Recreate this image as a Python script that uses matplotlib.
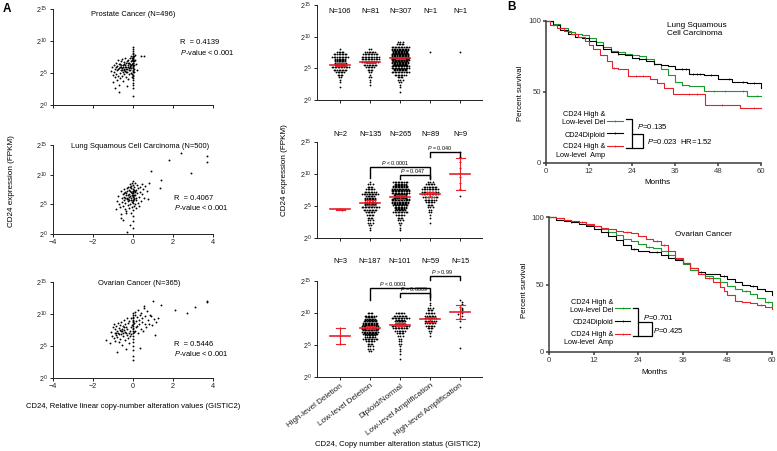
import matplotlib
matplotlib.use("Agg")
import matplotlib.pyplot as plt
import numpy as np

plt.rcParams["font.family"] = ["Liberation Sans", "DejaVu Sans"]
plt.rcParams["mathtext.fontset"] = "custom"
plt.rcParams["mathtext.rm"] = "Liberation Sans"
plt.rcParams["mathtext.it"] = "Liberation Sans:italic"
plt.rcParams["axes.linewidth"] = 0.7

W, H = 777, 451
RED = "#e8202a"
GREEN = "#1a9a2a"
AXC = "#222222"

# ---------------- data: panel A, scatter (GISTIC2 value, log2 FPKM) ----------------
prad_pts = [
    (-1.08, 5.3), (-1.05, 5.9), (-1.02, 4.7), (-0.98, 3.6), (-0.96, 6.2), (-0.94, 5.1), (-0.91, 2.6),
    (-0.90, 4.3), (-0.88, 5.7), (-0.86, 6.6), (-0.84, 4.9), (-0.82, 3.9), (-0.80, 5.4), (-0.78, 6.1),
    (-0.76, 4.6), (-0.74, 7.0), (-0.72, 3.2), (-0.70, 5.8), (-0.69, 2.1), (-0.67, 6.4), (-0.65, 5.0),
    (-0.63, 4.2), (-0.61, 6.8), (-0.60, 5.5), (-0.58, 6.0), (-0.56, 4.6), (-0.54, 7.2), (-0.52, 5.2),
    (-0.50, 6.3), (-0.48, 3.7), (-0.47, 5.7), (-0.45, 6.7), (-0.43, 4.9), (-0.41, 6.0), (-0.40, 5.3),
    (-0.38, 7.4), (-0.36, 4.4), (-0.34, 6.5), (-0.33, 5.6), (-0.31, 2.9), (-0.30, 6.9), (-0.28, 5.1),
    (-0.26, 6.2), (-0.25, 4.0), (-0.23, 7.1), (-0.21, 5.8), (-0.20, 6.6), (-0.18, 4.8), (-0.16, 7.3),
    (-0.15, 5.4), (-0.13, 6.1), (-0.11, 7.6), (-0.10, 5.0), (-0.08, 6.8), (-0.07, 4.3), (-0.06, 7.0),
    (-0.75, 5.6), (-0.66, 5.9), (-0.57, 5.4), (-0.49, 6.0), (-0.44, 5.5), (-0.39, 6.3), (-0.35, 5.9),
    (-0.29, 5.6), (-0.24, 6.0), (-0.19, 5.5), (-0.14, 6.4), (-0.12, 5.8), (-0.62, 6.2), (-0.53, 5.8),
    (-0.46, 6.4), (-0.37, 5.2), (-0.27, 6.5), (-0.17, 6.0), (-0.09, 6.2), (-0.71, 6.4), (-0.83, 5.9),
    (0.00, 1.4), (0.00, 2.6), (-0.02, 3.1), (0.02, 3.5), (0.00, 3.9), (-0.02, 4.2), (0.02, 4.5),
    (0.00, 4.7), (-0.03, 4.9), (0.02, 5.1), (0.00, 5.3), (-0.02, 5.5), (0.03, 5.6), (0.00, 5.8),
    (-0.02, 6.0), (0.02, 6.1), (0.00, 6.3), (-0.03, 6.4), (0.02, 6.5), (0.00, 6.6), (-0.02, 6.8),
    (0.03, 6.9), (0.00, 7.0), (-0.02, 7.1), (0.02, 7.2), (0.00, 7.3), (-0.03, 7.4), (0.02, 7.5),
    (0.00, 7.7), (-0.02, 7.9), (0.02, 8.1), (0.00, 8.4), (0.00, 8.7), (0.00, 9.1), (0.05, 6.2),
    (0.04, 7.6), (0.06, 5.2), (0.10, 7.0), (0.14, 6.4), (0.12, 7.8), (0.42, 7.6), (0.56, 7.6), (0.20, 5.5),
]

lusc_pts = [
    (-0.83, 4.2), (-0.78, 5.6), (-0.74, 6.4), (-0.70, 5.1), (-0.66, 4.6), (-0.62, 7.2), (-0.60, 3.3),
    (-0.58, 2.7), (-0.56, 6.0), (-0.54, 5.4), (-0.52, 6.8), (-0.50, 2.4), (-0.49, 4.8), (-0.47, 7.6),
    (-0.45, 5.8), (-0.43, 6.3), (-0.42, 4.2), (-0.40, 7.0), (-0.38, 5.2), (-0.36, 6.6), (-0.35, 3.9),
    (-0.33, 3.5), (-0.32, 0.4), (-0.31, 5.9), (-0.30, 7.3), (-0.28, 6.1), (-0.27, 4.9), (-0.25, 8.0),
    (-0.24, 5.5), (-0.22, 6.8), (-0.21, 4.4), (-0.20, 7.5), (-0.18, 5.7), (-0.17, 1.5), (-0.16, 6.4),
    (-0.15, 8.4), (-0.13, 5.0), (-0.12, 7.0), (-0.10, 6.0), (-0.09, 3.6), (-0.08, 7.8), (-0.07, 5.4),
    (-0.05, 6.6), (-0.04, 4.6), (-0.03, 8.6), (-0.02, 7.2), (-0.01, 5.8), (0.00, 6.9), (0.00, 6.2),
    (0.00, 5.2), (0.00, 7.6), (0.00, 8.2), (0.00, 4.0), (0.00, 3.0), (0.00, 2.2), (0.00, 1.0),
    (0.00, 8.9), (0.01, 6.5), (0.02, 5.5), (0.03, 7.4), (0.04, 4.8), (0.05, 8.0), (0.06, 6.1),
    (0.08, 7.0), (0.09, 5.1), (0.10, 8.6), (0.12, 6.6), (0.13, 4.3), (0.15, 7.5), (0.17, 5.8),
    (0.19, 8.2), (0.21, 6.9), (0.23, 5.2), (0.25, 7.7), (0.28, 6.3), (0.30, 4.7), (0.33, 8.0),
    (0.36, 7.1), (0.40, 5.6), (0.43, 8.4), (0.47, 6.7), (0.52, 7.6), (0.57, 6.0), (0.62, 8.1),
    (0.68, 7.2), (0.75, 5.9), (0.80, 8.6), (-0.35, 6.9), (-0.26, 6.6), (-0.19, 6.2), (-0.14, 7.2),
    (-0.06, 6.9), (-0.02, 6.4), (0.02, 7.0), (0.07, 6.6), (-0.29, 7.8), (-0.11, 8.1), (0.11, 7.3),
    (-0.23, 5.9), (-0.40, 6.1), (-0.46, 6.9), (0.16, 6.0), (0.00, 5.8), (0.00, 7.2), (-0.08, 5.8),
    (0.05, 5.9), (-0.16, 7.9),
    (0.92, 10.7), (1.33, 7.7), (1.42, 9.1), (1.78, 12.4), (2.38, 13.6), (2.92, 10.3), (3.68, 13.2), (3.68, 12.2),
]

ov_pts = [
    (-1.34, 6.0), (-1.13, 5.4), (-1.10, 7.2), (-1.05, 6.6), (-1.00, 7.9), (-0.97, 6.2), (-0.94, 8.4),
    (-0.92, 7.0), (-0.90, 5.8), (-0.88, 7.6), (-0.86, 6.7), (-0.84, 8.2), (-0.82, 4.1), (-0.80, 7.3),
    (-0.78, 6.4), (-0.76, 8.6), (-0.74, 7.0), (-0.72, 5.6), (-0.70, 7.8), (-0.68, 6.8), (-0.66, 8.3),
    (-0.64, 6.1), (-0.62, 7.4), (-0.60, 8.8), (-0.58, 6.9), (-0.56, 7.7), (-0.54, 5.1), (-0.52, 8.1),
    (-0.50, 7.1), (-0.48, 6.5), (-0.46, 9.0), (-0.44, 7.5), (-0.42, 6.0), (-0.40, 8.4), (-0.38, 7.2),
    (-0.36, 4.6), (-0.34, 8.0), (-0.32, 6.7), (-0.30, 9.3), (-0.28, 7.6), (-0.26, 6.3), (-0.24, 8.6),
    (-0.22, 7.0), (-0.20, 5.5), (-0.18, 8.9), (-0.16, 7.4), (-0.14, 6.6), (-0.12, 9.4), (-0.10, 7.9),
    (-0.08, 6.9), (-0.06, 8.3), (-0.85, 7.1), (-0.65, 7.5), (-0.55, 7.3), (-0.45, 7.9), (-0.35, 7.0),
    (0.00, 2.8), (0.00, 3.5), (0.00, 4.3), (-0.02, 5.0), (0.02, 5.6), (0.00, 6.1), (-0.02, 6.6),
    (0.02, 7.0), (0.00, 7.4), (-0.02, 7.8), (0.02, 8.1), (0.00, 8.4), (-0.02, 8.7), (0.02, 9.0),
    (0.00, 9.3), (-0.02, 9.6), (0.02, 9.9), (0.00, 10.2), (0.00, 7.6), (0.00, 8.9), (0.03, 7.2),
    (0.06, 8.6), (0.08, 9.8), (0.10, 7.4), (0.12, 10.3), (0.14, 8.9), (0.16, 7.9), (0.18, 9.5),
    (0.20, 8.2), (0.23, 10.6), (0.26, 7.1), (0.29, 9.1), (0.32, 8.5), (0.35, 9.9), (0.36, 4.7),
    (0.38, 7.7), (0.41, 10.2), (0.44, 8.8), (0.47, 9.4), (0.50, 7.3), (0.53, 10.9), (0.56, 11.25),
    (0.58, 8.4), (0.62, 9.7), (0.66, 8.0), (0.70, 10.4), (0.75, 9.0), (0.80, 8.5), (0.85, 9.8),
    (0.90, 9.7), (0.95, 8.3), (1.05, 9.2), (1.10, 6.7), (1.15, 8.8), (1.24, 9.4),
    (0.98, 12.1), (1.40, 11.4), (2.10, 10.6), (2.70, 10.2), (3.10, 11.1), (3.69, 12.1), (3.69, 11.8),
]

scatter_titles = ["Prostate Cancer (N=496)", "Lung Squamous Cell Carcinoma (N=500)", "Ovarian Cancer (N=365)"]
scatter_r = ["0.4139", "0.4067", "0.5446"]

# ---------------- data: panel A, CNA status groups (log2 FPKM) ----------------
cna_labels = ["High-level Deletion", "Low-level Deletion", "Diploid/Normal",
              "Low-level Amplification", "High-level Amplification"]
BIN = 0.4
# binned groups: category -> (first bin value, counts per bin)
prad_bins = {
    0: (2.0, [1, 0, 1, 1, 2, 4, 6, 9, 12, 15, 15, 14, 11, 9, 5, 1]),
    1: (2.4, [1, 1, 1, 2, 1, 2, 4, 6, 9, 11, 12, 12, 10, 7, 2]),
    2: (1.2, [1, 0, 1, 1, 2, 3, 4, 8, 12, 18, 24, 28, 32, 34, 34, 33, 30, 22, 12, 5, 3]),
}
prad_vals = {3: [7.5], 4: [7.5]}
prad_n = [106, 81, 307, 1, 1]
prad_mean = [5.6, 6.0, 6.6, None, None]
prad_err = [0.2, 0.2, 0.15, None, None]

lusc_bins = {
    1: (1.2, [1, 1, 2, 3, 3, 4, 5, 6, 9, 12, 14, 15, 14, 13, 11, 8, 6, 4, 3, 1]),
    2: (1.2, [1, 1, 1, 2, 3, 4, 6, 10, 13, 16, 19, 22, 24, 25, 25, 24, 23, 20, 16, 10]),
    3: (2.4, [1, 0, 1, 1, 2, 2, 3, 4, 6, 8, 10, 11, 11, 11, 9, 6, 3]),
}
lusc_vals = {0: [4.5, 4.45], 4: [13.4, 12.6, 11.8, 11.0, 10.2, 9.6, 8.6, 7.6, 6.5]}
lusc_n = [2, 135, 265, 89, 9]
lusc_mean = [4.5, 5.5, 6.4, 6.85, 10.0]
lusc_err = [0.05, 0.4, 0.3, 0.4, 2.45]

ov_bins = {
    1: (4.0, [2, 3, 3, 4, 6, 10, 14, 19, 21, 22, 21, 20, 17, 13, 8, 4]),
    2: (2.8, [1, 0, 1, 1, 1, 1, 2, 2, 2, 3, 5, 7, 10, 12, 13, 13, 12, 9, 6]),
    3: (6.4, [1, 1, 2, 4, 6, 7, 8, 8, 7, 6, 4, 3, 1, 1]),
}
ov_vals = {0: [5.2, 6.4, 7.6],
           4: [12.0, 11.7, 11.4, 11.0, 10.8, 10.6, 10.4, 10.2, 10.0, 9.9, 9.6, 9.2, 8.7, 7.8, 4.6]}
ov_n = [3, 187, 101, 59, 15]
ov_mean = [6.4, 7.7, 8.2, 9.0, 10.1]
ov_err = [1.2, 0.25, 0.25, 0.35, 1.1]

# comparisons: (cat a, cat b, bracket top, left leg end, right leg end, p text, text x)
lusc_cmp = [(1, 3, 11.1, 9.4, 9.4, "< 0.0001", 1.83), (2, 3, 9.8, 9.2, 9.2, "= 0.047", 2.4),
            (3, 4, 13.4, 12.6, 12.5, "= 0.040", 3.3)]
ov_cmp = [(3, 4, 15.8, 15.2, 15.2, "> 0.99", 3.4), (1, 3, 13.9, 12.0, 12.0, "< 0.0001", 1.77),
          (2, 3, 13.1, 12.5, 12.5, "= 0.0009", 2.45)]

# ---------------- data: panel B, Kaplan-Meier (months, percent survival) ----------------
lusc_del_t = [0, 2, 4, 6, 8, 10, 12, 14, 16, 18, 20, 22, 24, 26, 28, 30, 32, 34, 36, 38, 40, 44, 50, 56, 60]
lusc_del_s = [100, 98, 95, 92, 91, 90, 88, 85, 82, 79, 78, 77, 76, 75, 73, 70, 66, 62, 57, 55, 54, 51, 51, 47, 47]
lusc_del_c = [12, 26, 38, 47, 50, 55, 59]
lusc_dip_t = [0, 2, 4, 6, 8, 10, 12, 14, 16, 18, 20, 22, 24, 26, 28, 30, 32, 34, 36, 40, 44, 48, 52, 56, 60]
lusc_dip_s = [100, 97, 94, 91, 89, 88, 86, 83, 80, 78, 77, 76, 74, 73, 72, 70, 69, 68, 66, 63, 62, 59, 57, 56, 53]
lusc_dip_c = [20, 26, 30, 38, 39, 41, 42, 43, 46, 51, 55, 58]
lusc_amp_t = [0, 1, 3, 5, 7, 9, 11, 12, 13, 15, 17, 18.5, 20, 23, 26, 29, 31, 33, 35.5, 44.5, 54, 60]
lusc_amp_s = [100, 97, 95, 93, 91, 89, 86, 83, 80, 76, 72, 67, 66, 61, 61, 59, 56, 53, 48.6, 41, 38.5, 38.5]
lusc_amp_c = [8, 19, 25, 27, 40, 42, 49, 58]

ov_del_t = [0, 2, 4, 6, 8, 10, 12, 14, 16, 18, 20, 22, 24, 26, 28, 30, 32, 34, 36, 38, 40, 42, 44,
            46, 48, 50, 52, 54, 56, 58, 60]
ov_del_s = [100, 99, 98, 97, 96, 94, 93, 91, 89, 87, 84, 82, 80, 78, 77, 75, 72, 69, 65, 61, 58, 56, 55,
            52, 49, 47, 45, 43, 40, 37, 34]
ov_del_c = [9, 18, 27, 44, 53, 59]
ov_dip_t = [0, 2, 4, 6, 8, 10, 12, 14, 16, 18, 20, 22, 24, 27, 30, 32, 34, 36, 38, 40, 42, 44, 46,
            48, 50, 52, 54, 56, 58, 60]
ov_dip_s = [100, 98, 97, 96, 95, 93, 91, 89, 86, 83, 79, 76, 75, 74, 72, 70, 68, 66, 62, 59, 58, 58, 56,
            54, 52, 50, 49, 47, 45, 42]
ov_dip_c = [6, 23, 29, 41, 47, 55]
ov_amp_t = [0, 2, 4, 6, 8, 10, 12, 14, 16, 18, 20, 22, 24, 26, 28, 30, 32, 34, 36, 38, 40, 42, 44,
            46, 47, 48, 50, 52, 54, 56, 58, 60]
ov_amp_s = [100, 99, 98, 97, 96, 95, 93, 92, 91, 90, 89, 88, 86, 84, 82, 79, 75, 70, 66, 62, 58, 55, 52,
            48, 45, 42, 38, 37, 36, 35, 33, 32]
ov_amp_c = [8, 21, 29, 31, 43, 57]

fig = plt.figure(figsize=(W / 100, H / 100), dpi=100)


def rect(left, top, right, bottom):
    return [left / W, 1 - bottom / H, (right - left) / W, (bottom - top) / H]


def ftext(px, py, s, **kw):
    fig.text(px / W, 1 - py / H, s, **kw)


def style_axes(ax, lw=0.7, color=AXC, size=5.2, length=2.2):
    for side in ("top", "right"):
        ax.spines[side].set_visible(False)
    for side in ("left", "bottom"):
        ax.spines[side].set_linewidth(lw)
        ax.spines[side].set_color(color)
    ax.tick_params(direction="out", length=length, width=lw, colors=color, labelsize=size, pad=1.5)


pow_labels = [r"$\mathregular{2^{%d}}$" % v for v in (0, 5, 10, 15)]

# ---------------- left column: scatter ----------------
scatter_rects = [(53, 9, 213, 105), (53, 145, 213, 234), (53, 282, 213, 378)]
scatter_title_pos = [(0.0, 14.1), (0.35, 14.8), (0.3, 14.7)]
scatter_r_pos = [(2.35, 9.7), (2.05, 5.9), (2.05, 5.3)]
for i, pts in enumerate([prad_pts, lusc_pts, ov_pts]):
    ax = fig.add_axes(rect(*scatter_rects[i]))
    arr = np.array(pts)
    ax.plot(arr[:, 0], arr[:, 1], "o", ms=1.35, mew=0, color="black", clip_on=False)
    ax.set_xlim(-4, 4)
    ax.set_ylim(0, 15)
    ax.set_xticks([-4, -2, 0, 2, 4])
    ax.set_yticks([0, 5, 10, 15])
    ax.set_yticklabels(pow_labels)
    style_axes(ax)
    if i == 0:
        ax.set_xticklabels([])
    tx, ty = scatter_title_pos[i]
    ax.text(tx, ty, scatter_titles[i], ha="center", va="center", fontsize=5.4)
    rx, ry = scatter_r_pos[i]
    ax.text(rx, ry, "R  = " + scatter_r[i], ha="left", va="center", fontsize=5.4)
    ax.text(rx, ry - 1.45, r"$\mathit{P}$-value < 0.001", ha="left", va="center", fontsize=5.4)

ftext(12, 181, "CD24 expression (FPKM)", rotation=90, ha="center", va="center", fontsize=5.9)
ftext(133, 407, "CD24, Relative linear copy-number alteration values (GISTIC2)",
      ha="center", va="center", fontsize=5.5)


# ---------------- middle column: dot plots ----------------
def swarm_from_bins(cat, start, counts, step=0.052, max_row=12):
    xs, ys = [], []
    for i, c in enumerate(counts):
        if c == 0:
            continue
        y0 = start + i * BIN
        nrows = int(np.ceil(c / max_row))
        for r, idx in enumerate(np.array_split(np.arange(c), nrows)):
            n = len(idx)
            yy = y0 + (r - (nrows - 1) / 2) * BIN / nrows
            s = step if n > 3 else step * 1.6
            xs.extend(cat + (np.arange(n) - (n - 1) / 2) * s)
            ys.extend([yy] * n)
    return xs, ys


def swarm_from_values(cat, vals, step=0.07, tol=0.35):
    xs, placed = [], []
    for v in vals:
        k = sum(1 for p in placed if abs(p - v) < tol)
        off = 0 if k == 0 else ((k + 1) // 2) * step * (1 if k % 2 else -1)
        xs.append(cat + off)
        placed.append(v)
    return xs, list(vals)


def bracket(ax, a, b, top, la, lb, ptxt, tx):
    ax.plot([a, a, b, b], [la, top, top, lb], color="black", lw=1.0, clip_on=False,
            solid_joinstyle="miter")
    ax.text(tx, top + 0.02, r"$\mathit{P}$ " + ptxt, ha="center", va="bottom",
            fontsize=3.9, clip_on=False)


dot_rects = [(317, 5, 482, 100), (317, 142, 482, 238), (317, 281, 482, 377)]
n_label_y = [13.9, 16.1, 18.0]
panels = [(prad_bins, prad_vals, prad_n, prad_mean, prad_err, []),
          (lusc_bins, lusc_vals, lusc_n, lusc_mean, lusc_err, lusc_cmp),
          (ov_bins, ov_vals, ov_n, ov_mean, ov_err, ov_cmp)]
for i, (bins, vals, ns, means, errs, cmps) in enumerate(panels):
    ax = fig.add_axes(rect(*dot_rects[i]))
    for cat, (start, counts) in bins.items():
        xs, ys = swarm_from_bins(cat, start, counts)
        ax.plot(xs, ys, "o", ms=1.3, mew=0, color="black", clip_on=False)
    for cat, v in vals.items():
        xs, ys = swarm_from_values(cat, v)
        ax.plot(xs, ys, "o", ms=1.3, mew=0, color="black", clip_on=False)
    for cat in range(5):
        if means[cat] is None:
            continue
        m, e = means[cat], errs[cat]
        ax.plot([cat - 0.33, cat + 0.33], [m, m], color=RED, lw=1.2, zorder=5)
        ax.plot([cat, cat], [m - e, m + e], color=RED, lw=0.8, zorder=5)
        for yy in (m - e, m + e):
            ax.plot([cat - 0.15, cat + 0.15], [yy, yy], color=RED, lw=0.8, zorder=5)
    for cat in range(5):
        ax.text(cat, n_label_y[i], "N=%d" % ns[cat], ha="center", va="center", fontsize=5.4)
    for c in cmps:
        bracket(ax, *c)
    ax.set_xlim(-0.77, 4.73)
    ax.set_ylim(0, 15)
    ax.set_xticks(range(5))
    ax.set_yticks([0, 5, 10, 15])
    ax.set_yticklabels(pow_labels)
    style_axes(ax)
    if i < 2:
        ax.set_xticklabels([])
    else:
        ax.set_xticklabels(cna_labels, rotation=37, ha="right", rotation_mode="anchor", fontsize=5.9)
        ax.tick_params(axis="x", pad=1.5)

ftext(284, 170, "CD24 expression (FPKM)", rotation=90, ha="center", va="center", fontsize=5.9)
ftext(398, 445, "CD24, Copy number alteration status (GISTIC2)", ha="center", va="center", fontsize=5.6)


# ---------------- right column: Kaplan-Meier ----------------
def draw_km(ax, times, surv, censor, color):
    t = np.asarray(times, float)
    s = np.asarray(surv, float)
    ax.step(t, s, where="post", color=color, lw=0.8, clip_on=False)
    c = np.asarray(censor, float)
    idx = np.searchsorted(t, c, side="right") - 1
    ax.plot(c, s[idx], ls="none", marker="|", ms=2.0, mew=0.5, color=color, clip_on=False)


def km_legend(ax, xr, lx, ly, rows, br1, br2, ptexts):
    for (y, txt) in rows:
        ax.text(xr, y, txt, ha="right", va="center", fontsize=5.2)
    for y, color in zip(ly, (GREEN, "black", RED)):
        ax.plot(lx, [y, y], color=color, lw=0.8, clip_on=False)
        ax.plot([(lx[0] + lx[1]) / 2], [y], marker="|", ms=2.0, mew=0.5, color=color)
    for br in (br1, br2):
        bx, by = zip(*br)
        ax.plot(bx, by, color="black", lw=0.9, clip_on=False, solid_joinstyle="miter")
    for (x, y, txt) in ptexts:
        ax.text(x, y, txt, ha="left", va="center", fontsize=5.6)


km_sets = [
    dict(rect=(546, 21, 761, 163),
         curves=[(lusc_del_t, lusc_del_s, lusc_del_c, GREEN), (lusc_dip_t, lusc_dip_s, lusc_dip_c, "black"),
                 (lusc_amp_t, lusc_amp_s, lusc_amp_c, RED)],
         title="Lung Squamous\nCell Carcinoma", title_xy=(33.8, 94),
         ylab=(521, 93), xlab=(657, 182),
         legend=(16.5, [17.0, 21.5], [29.6, 21.1, 12.0],
                 [(34.5, "CD24 High &"), (28.2, "Low-level Del"), (19.7, "CD24Diploid"),
                  (11.3, "CD24 High &"), (5.6, "Low-level  Amp")],
                 [(22.3, 31.0), (24.0, 31.0), (24.0, 10.6), (22.3, 10.6)],
                 [(24.0, 20.4), (27.1, 20.4), (27.1, 10.6), (24.0, 10.6)],
                 [(25.4, 25.4, r"$\mathit{P}$=0.135"), (28.2, 14.8, r"$\mathit{P}$=0.023  HR=1.52")])),
    dict(rect=(549, 217, 772, 352),
         curves=[(ov_del_t, ov_del_s, ov_del_c, GREEN), (ov_dip_t, ov_dip_s, ov_dip_c, "black"),
                 (ov_amp_t, ov_amp_s, ov_amp_c, RED)],
         title="Ovarian Cancer", title_xy=(33.9, 86.7),
         ylab=(524, 290), xlab=(654, 373),
         legend=(17.2, [17.8, 21.8], [32.6, 23.0, 13.3],
                 [(37.0, "CD24 High &"), (31.1, "Low-level Del"), (21.5, "CD24Diploid"),
                  (13.3, "CD24 High &"), (6.9, "Low-level  Amp")],
                 [(22.6, 32.6), (23.9, 32.6), (23.9, 11.9), (22.6, 11.9)],
                 [(23.9, 22.2), (27.7, 22.2), (27.7, 11.9), (23.9, 11.9)],
                 [(25.3, 25.9, r"$\mathit{P}$=0.701"), (28.0, 15.6, r"$\mathit{P}$=0.425")])),
]
for k in km_sets:
    ax = fig.add_axes(rect(*k["rect"]))
    for t, s, c, color in k["curves"]:
        draw_km(ax, t, s, c, color)
    ax.set_xlim(0, 60)
    ax.set_ylim(0, 100)
    ax.set_xticks(range(0, 61, 12))
    ax.set_yticks([0, 50, 100])
    style_axes(ax, lw=1.1, color="#3a3a3a", size=5.6, length=2.0)
    ax.text(*k["title_xy"], k["title"], ha="left", va="center", fontsize=5.9, linespacing=1.3)
    km_legend(ax, *k["legend"])
    ftext(*k["ylab"], "Percent survival", rotation=90, ha="center", va="center", fontsize=5.6)
    ftext(*k["xlab"], "Months", ha="center", va="center", fontsize=5.8)

ftext(6.5, 8.5, "A", ha="center", va="center", fontsize=8.5, fontweight="bold")
ftext(511, 7.5, "B", ha="center", va="center", fontsize=8.5, fontweight="bold")

fig.savefig("out.png", dpi=100)
